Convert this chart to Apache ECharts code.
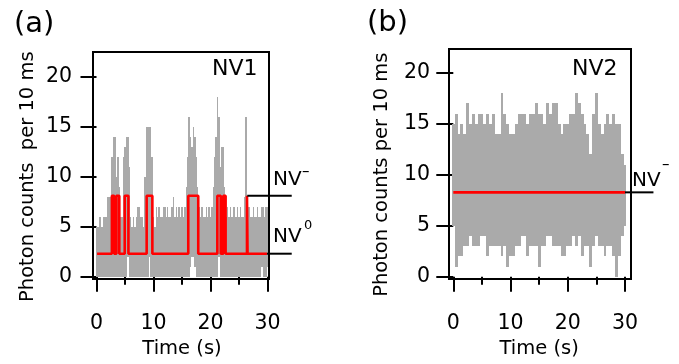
<!DOCTYPE html>
<html><head><meta charset="utf-8">
<script src="https://cdn.jsdelivr.net/npm/echarts@6/dist/echarts.min.js"></script>
<style>html,body{margin:0;padding:0;background:#fff}#c{width:679px;height:364px}</style>
</head><body><div id="c"></div>
<script>
const FONT = 'DejaVu Sans';
const GRAY = '#aaaaaa';

// ---- Panel (a): NV1 photon counts envelope (0.25 s bins) ----
const binA = 0.25;
const maxA = [
  5,5,6,6,5,6,6,6,8,8,8,12,14,14,10,12,9,6,6,12,
  13,14,14,11,6,5,6,5,6,7,7,6,6,5,10,15,15,15,15,12,
  6,5,7,6,7,6,6,7,7,6,7,6,6,7,8,6,7,6,7,6,
  7,6,7,9,12,16,14,13,15,14,12,9,7,6,7,6,6,7,6,7,
  6,7,9,12,14,18,16,11,13,13,9,6,7,6,7,6,7,7,6,7,
  6,7,6,6,8,16,6,7,6,6,7,6,6,7,6,6,7,7,6,7,7
];
const minA = [
  0,0,0,0,0,0,0,0,0,0,0,0,0,0,0,0,0,0,0,0,
  0,0,2,0,0,0,0,0,0,0,0,0,0,0,0,0,0,2,0,0,
  0,0,0,0,0,0,0,0,0,0,0,0,0,0,0,0,0,0,0,0,
  0,0,0,0,0,0,1,2,2,1,0,0,0,0,0,0,0,0,0,0,
  0,0,0,0,0,0,2,0,0,0,0,0,0,0,0,0,0,0,0,0,
  0,0,0,0,0,0,0,0,0,0,0,0,0,0,0,0,1,0,0,0,1
];
// state trace (a): transition times and held levels
const NV_MINUS_A = 8.1, NV_ZERO_A = 2.3;
const stateTimesA = [0.1, 2.7, 3.1, 3.5, 4.0, 4.95, 5.6, 8.8, 9.8, 16.1, 17.85, 21.2, 21.8, 22.25, 22.65, 26.4, 26.5, 29.9];
const stateIsMinusA = [0,1,0,1,0,1,0,1,0,1,0,1,0,1,0,1,0,0];
const guideMinusA = [26.45, 34.25];
const guideZeroA = [29.9, 34.25];

// ---- Panel (b): NV2 photon counts envelope (0.5 s bins) ----
const binB = 0.5;
const maxB = [
  15,16,14,15,14,17,15,16,15,16,16,15,16,15,16,14,14,18,16,15,
  14,14,15,16,16,16,15,16,16,17,16,16,15,17,16,17,17,15,14,15,
  15,16,16,18,17,16,15,14,12,16,18,15,14,15,16,15,16,15,15,12,11
];
const minB = [
  5,1,2,2,3,3,4,3,3,3,4,4,2,3,3,3,3,2,3,1,
  2,2,3,3,4,4,2,3,3,3,1,3,3,4,4,3,3,3,2,2,
  3,3,4,3,4,2,3,3,1,3,4,3,3,2,3,3,2,0,2,4,5
];
const NV_MINUS_B = 8.27;
const stateTimesB = [0, 30];
const guideMinusB = [30, 34.97];

const xTickLabels = [0, 10, 20, 30];
const yTickLabels = [0, 5, 10, 15, 20];

const timesA = maxA.map((_, i) => i * binA);
const timesB = maxB.map((_, i) => i * binB);

// Gray count trace drawn as one filled envelope (max above, min below) via the axis scales
function bandSeries(g, times, lo, hi, half) {
  return {
    type: 'custom', xAxisIndex: g, yAxisIndex: g, clip: false, silent: true, z: 2,
    data: [[times[0], lo[0], hi[0]]],
    encode: { x: 0, y: [1, 2] },
    renderItem(params, api) {
      const P = (t, v) => { const c = api.coord([t, v]); return [Math.round(c[0]), Math.round(c[1])]; };
      const pts = [];
      for (let i = 0; i < times.length; i++) {
        pts.push(P(times[i] - half, hi[i]), P(times[i] + half, hi[i]));
      }
      for (let i = times.length - 1; i >= 0; i--) {
        pts.push(P(times[i] + half, lo[i]), P(times[i] - half, lo[i]));
      }
      return { type: 'polygon', shape: { points: pts }, style: { fill: GRAY, stroke: null } };
    }
  };
}
function guideSeries(g, times, level) {
  return {
    type: 'custom', xAxisIndex: g, yAxisIndex: g, clip: false, silent: true, z: 6,
    data: [[times[0], times[1], level]],
    encode: { x: [0, 1], y: 2 },
    renderItem(params, api) {
      const a = api.coord([api.value(0), api.value(2)]);
      const b = api.coord([api.value(1), api.value(2)]);
      return { type: 'line', shape: { x1: a[0], y1: a[1], x2: b[0], y2: b[1] }, style: { stroke: '#000', lineWidth: 2 } };
    }
  };
}
function lineSeries(g, data, color, width, step) {
  return { type: 'line', xAxisIndex: g, yAxisIndex: g, data, symbol: 'none', clip: false, silent: true,
    step: step || false, z: 5, lineStyle: { color, width }, animation: false };
}
const lblTxt = { fontFamily: FONT, fontSize: 20.5, color: '#000' };
const nameTxt = { fontFamily: FONT, fontSize: 19.5, color: '#000' };
function mkX(g) {
  return { gridIndex: g, type: 'value', min: xTickLabels[0], max: xTickLabels[xTickLabels.length - 1], interval: 10, offset: 5,
    name: 'Time (s)', nameLocation: 'middle', nameGap: 49, nameTextStyle: nameTxt,
    axisLine: { show: false },
    axisTick: { show: true, length: 15, lineStyle: { color: '#000', width: 2 } },
    minorTick: { show: true, splitNumber: 2, length: 8, lineStyle: { color: '#000', width: 2 } },
    axisLabel: Object.assign({ margin: 31 }, lblTxt),
    splitLine: { show: false }, minorSplitLine: { show: false } };
}
function mkY(g, name, offset, tickLen, margin, gap) {
  return { gridIndex: g, type: 'value', min: yTickLabels[0], max: yTickLabels[yTickLabels.length - 1], interval: 5, offset,
    name, nameLocation: 'middle', nameGap: gap, nameRotate: 90, nameTextStyle: nameTxt,
    axisLine: { show: false },
    axisTick: { show: true, length: tickLen, lineStyle: { color: '#000', width: 2 } },
    axisLabel: Object.assign({ margin }, lblTxt),
    splitLine: { show: false } };
}
function hid(g) { return { gridIndex: g, type: 'value', show: false, min: 0, max: 1 }; }

const stateDataA = stateTimesA.map((t, i) => [t, stateIsMinusA[i] ? NV_MINUS_A : NV_ZERO_A]);

function gtext(x, y, text, size) {
  return { type: 'text', x, y, silent: true, z: 100,
    style: { text, fontFamily: FONT, fontSize: size, fill: '#000', align: 'left', verticalAlign: 'middle' } };
}

const option = {
  animation: false,
  backgroundColor: '#fff',
  grid: [
    { left: 96.5, top: 76.7, width: 171, height: 200, show: false },
    { left: 453.3, top: 72.7, width: 171.7, height: 204, show: false },
    { left: 93, top: 52, width: 176, height: 227, show: true, borderColor: '#000', borderWidth: 2, backgroundColor: 'transparent', z: 10 },
    { left: 449, top: 49, width: 182, height: 230, show: true, borderColor: '#000', borderWidth: 2, backgroundColor: 'transparent', z: 10 }
  ],
  xAxis: [mkX(0), mkX(1), hid(2), hid(3)],
  yAxis: [
    mkY(0, 'Photon counts  per 10 ms', 3.5, 16, 21, 55),
    mkY(1, 'Photon counts per 10 ms', 4.3, 17, 19, 57),
    hid(2), hid(3)
  ],
  series: [
    bandSeries(0, timesA, minA, maxA, binA / 2),
    lineSeries(0, stateDataA, '#ff0000', 2.6, 'end'),
    guideSeries(0, guideMinusA, NV_MINUS_A),
    guideSeries(0, guideZeroA, NV_ZERO_A),
    bandSeries(1, timesB, minB, maxB, binB / 2),
    lineSeries(1, stateTimesB.map(t => [t, NV_MINUS_B]), '#ff0000', 2.6),
    guideSeries(1, guideMinusB, NV_MINUS_B)
  ],
  graphic: [
    gtext(14, 24.5, '(a)', 29),
    gtext(367, 23.5, '(b)', 29),
    gtext(212, 69, 'NV1', 22),
    gtext(572, 69.5, 'NV2', 22),
    gtext(273, 180, 'NV', 20),
    gtext(302, 172, '–', 15),
    gtext(273, 237, 'NV', 20),
    gtext(304, 226, '0', 13),
    gtext(632, 180.5, 'NV', 20),
    gtext(662, 165, '–', 15)
  ]
};
const chart = echarts.init(document.getElementById('c'), null, { renderer: 'canvas' });
chart.setOption(option);
</script>
</body></html>
